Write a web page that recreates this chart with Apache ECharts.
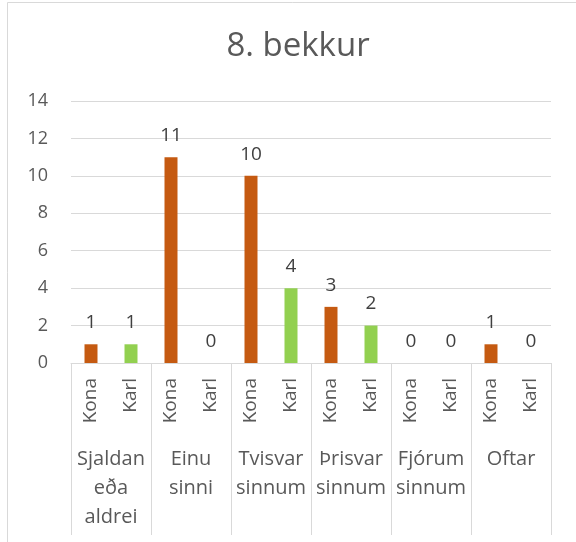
<!DOCTYPE html>
<html>
<head>
<meta charset="utf-8">
<script src="https://cdn.jsdelivr.net/npm/echarts@6/dist/echarts.min.js"></script>
<style>html,body{margin:0;padding:0;background:#fff}#c{width:576px;height:542px}</style>
</head>
<body>
<div id="c"></div>
<script>
const titleText = "8. bekkur";
const groups = ["Sjaldan\neða\naldrei", "Einu\nsinni", "Tvisvar\nsinnum", "Þrisvar\nsinnum", "Fjórum\nsinnum", "Oftar"];
const seriesNames = ["Kona", "Karl"];
const konaValues = [1, 11, 10, 3, 0, 1];
const karlValues = [1, 0, 4, 2, 0, 0];
const yTicks = [0, 2, 4, 6, 8, 10, 12, 14];

const FONT = '"Open Sans", sans-serif';
const innerCats = [];
const konaData = [];
const karlData = [];
groups.forEach((g, i) => {
  innerCats.push(seriesNames[0] + "|" + i, seriesNames[1] + "|" + i);
  konaData.push(konaValues[i], null);
  karlData.push(null, karlValues[i]);
});

const chart = echarts.init(document.getElementById('c'), null, {renderer: 'canvas'});
const labelStyle = {show: true, position: 'top', distance: 12, color: '#404040', fontSize: 19, fontFamily: FONT};
chart.setOption({
  animation: false,
  backgroundColor: '#fff',
  graphic: [{type: 'rect', shape: {x: 7.5, y: 2.5, width: 700, height: 700}, style: {fill: 'none', stroke: '#D9D9D9', lineWidth: 1}}],
  title: {text: titleText, left: 293, textAlign: 'center', top: 25, textStyle: {fontSize: 33, fontWeight: 'normal', color: '#595959', fontFamily: FONT}},
  grid: {left: 71, right: 25, top: 101, bottom: 179},
  xAxis: [{
    type: 'category', data: innerCats, position: 'bottom',
    axisLine: {show: true, lineStyle: {color: '#D9D9D9', width: 1}},
    axisTick: {show: false},
    axisLabel: {interval: 0, rotate: 90, margin: 15, color: '#595959', fontSize: 19, fontFamily: FONT, formatter: v => v.split('|')[0]},
    splitLine: {show: false}
  }, {
    type: 'category', data: groups, position: 'bottom',
    axisLine: {show: false},
    axisTick: {show: true, interval: 0, length: 172, lineStyle: {color: '#D9D9D9', width: 1}},
    axisLabel: {interval: 0, margin: 82, color: '#595959', fontSize: 20, lineHeight: 29, fontFamily: FONT},
    splitLine: {show: false}
  }],
  yAxis: {
    type: 'value', min: yTicks[0], max: yTicks[yTicks.length - 1], interval: 2,
    axisLine: {show: false}, axisTick: {show: false},
    axisLabel: {margin: 23, color: '#595959', fontSize: 18, fontFamily: FONT},
    splitLine: {lineStyle: {color: '#D9D9D9', width: 1}}
  },
  series: [
    {name: seriesNames[0], type: 'bar', data: konaData, barWidth: 13, barGap: '-100%', itemStyle: {color: '#C55A11'}, label: labelStyle},
    {name: seriesNames[1], type: 'bar', data: karlData, barWidth: 13, barGap: '-100%', itemStyle: {color: '#92D050'}, label: labelStyle}
  ]
});
</script>
</body>
</html>
